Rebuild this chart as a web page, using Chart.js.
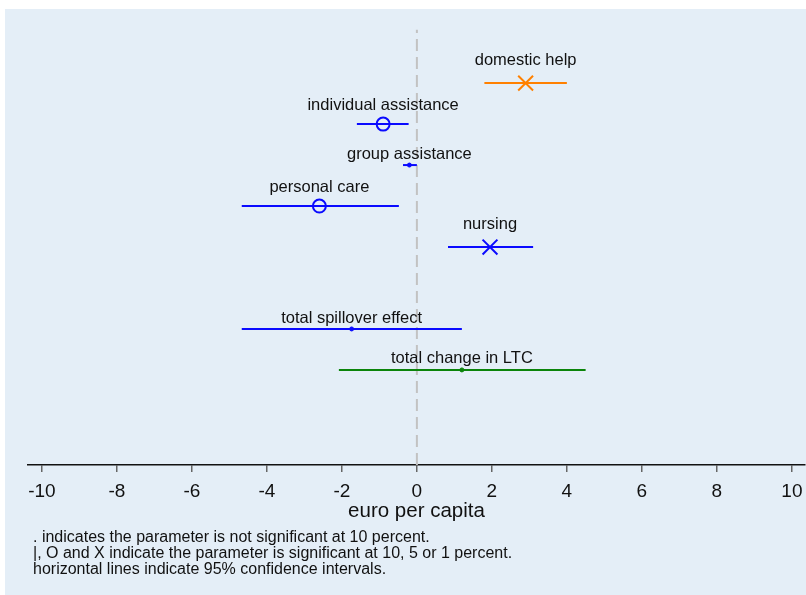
<!DOCTYPE html>
<html>
<head>
<meta charset="utf-8">
<script src="https://cdn.jsdelivr.net/npm/chart.js@4.4.0/dist/chart.umd.min.js"></script>
<style>
  html, body { margin: 0; padding: 0; background: #fff; }
  canvas { display: block; }
</style>
</head>
<body>
<canvas id="effectChart" width="806" height="595"></canvas>
<script>
// estimates and 95% confidence intervals, euro per capita
const categories = ['domestic help', 'individual assistance', 'group assistance', 'personal care', 'nursing', 'total spillover effect', 'total change in LTC'];
const rowPositions = [8, 7, 6, 5, 4, 2, 1];
const estimates = [2.9, -0.9, -0.2, -2.6, 1.95, -1.74, 1.2];
const ciLower = [1.8, -1.6, -0.37, -4.67, 0.83, -4.67, -2.08];
const ciUpper = [4.0, -0.22, 0.0, -0.48, 3.1, 1.2, 4.5];
const significance = ['1%', '5%', 'n.s.', '5%', '1%', 'n.s.', 'n.s.'];
const xTicks = [-10, -8, -6, -4, -2, 0, 2, 4, 6, 8, 10];
const notes = [
  '. indicates the parameter is not significant at 10 percent.',
  '|, O and X indicate the parameter is significant at 10, 5 or 1 percent.',
  'horizontal lines indicate 95% confidence intervals.'
];

const BLUE = '#0a0aff';
const colors = ['#ff8000', BLUE, BLUE, BLUE, BLUE, BLUE, '#0a840a'];
const FONT = "'Liberation Sans', Arial, sans-serif";

// marker look by significance level
function markerFor(sig, color) {
  if (sig === '1%') return { pointStyle: 'crossRot', radius: 10.5, borderWidth: 2, bg: color, gap: 23 };
  if (sig === '5%') return { pointStyle: 'circle', radius: 6.5, borderWidth: 2, bg: 'rgba(0,0,0,0)', gap: 19 };
  if (sig === '10%') return { pointStyle: 'line', radius: 6, borderWidth: 2, bg: color, gap: 15 };
  return { pointStyle: 'circle', radius: 2, borderWidth: 1, bg: color, gap: 11 };
}

const datasets = [];
categories.forEach((name, i) => {
  const m = markerFor(significance[i], colors[i]);
  datasets.push({
    label: name + ' CI',
    data: [{ x: ciLower[i], y: rowPositions[i] }, { x: ciUpper[i], y: rowPositions[i] }],
    showLine: true,
    borderColor: colors[i],
    borderWidth: 2,
    pointRadius: 0,
    order: 1
  });
  datasets.push({
    label: name,
    data: [{ x: estimates[i], y: rowPositions[i] }],
    showLine: false,
    pointStyle: m.pointStyle,
    pointRadius: m.radius,
    pointBorderWidth: m.borderWidth,
    pointBorderColor: colors[i],
    pointBackgroundColor: m.bg,
    order: 0
  });
});

const yMin = -1.32, yMax = 9.54;
// reference line at zero, drawn up from the axis
datasets.push({
  label: 'zero',
  data: [{ x: 0, y: yMin }, { x: 0, y: 9.3 }],
  showLine: true,
  borderColor: '#c2c2c2',
  borderWidth: 2,
  borderDash: [12, 6],
  pointRadius: 0,
  order: 5
});

const backgroundPlugin = {
  id: 'bg',
  beforeDraw(chart) {
    const c = chart.ctx;
    c.save();
    c.fillStyle = '#e4eef7';
    c.fillRect(5, 9, chart.width - 5, chart.height - 9);
    c.restore();
  }
};

const labelPlugin = {
  id: 'pointLabels',
  afterDatasetsDraw(chart) {
    const c = chart.ctx;
    const xs = chart.scales.x, ys = chart.scales.y;
    c.save();
    c.font = '16.5px ' + FONT;
    c.fillStyle = '#111';
    c.textAlign = 'center';
    c.textBaseline = 'middle';
    categories.forEach((name, i) => {
      const m = markerFor(significance[i], colors[i]);
      c.fillText(name, xs.getPixelForValue(estimates[i]), ys.getPixelForValue(rowPositions[i]) - m.gap);
    });
    c.restore();
  }
};

const notesPlugin = {
  id: 'notes',
  afterDraw(chart) {
    const c = chart.ctx;
    c.save();
    c.font = '16px ' + FONT;
    c.fillStyle = '#111';
    c.textAlign = 'left';
    c.textBaseline = 'middle';
    notes.forEach((t, i) => c.fillText(t, 33, 538 + i * 16));
    c.restore();
  }
};

new Chart(document.getElementById('effectChart'), {
  type: 'scatter',
  data: { datasets: datasets },
  options: {
    responsive: false,
    animation: false,
    layout: { autoPadding: false, padding: { left: 28, right: 1, top: 20, bottom: 71 } },
    plugins: { legend: { display: false }, tooltip: { enabled: false } },
    scales: {
      x: {
        type: 'linear',
        min: -10.37,
        max: 10.35,
        afterBuildTicks: (scale) => { scale.ticks = xTicks.map(v => ({ value: v })); },
        afterFit: (scale) => {
          scale.height = 59;
          // let the "10" label run past the axis end, as in the original
          scale.paddingLeft = 0;
          scale.paddingRight = 0;
        },
        ticks: { font: { size: 19, family: FONT }, color: '#111', padding: 8, maxRotation: 0 },
        grid: { drawOnChartArea: false, drawTicks: true, tickLength: 7, color: '#666', lineWidth: 1.5 },
        border: { display: true, color: '#111', width: 1.5 },
        title: { display: true, text: 'euro per capita', font: { size: 20.5, family: FONT }, color: '#111', padding: { top: 0, bottom: 0 } }
      },
      y: { type: 'linear', min: yMin, max: yMax, display: false }
    }
  },
  plugins: [backgroundPlugin, labelPlugin, notesPlugin]
});
</script>
</body>
</html>
